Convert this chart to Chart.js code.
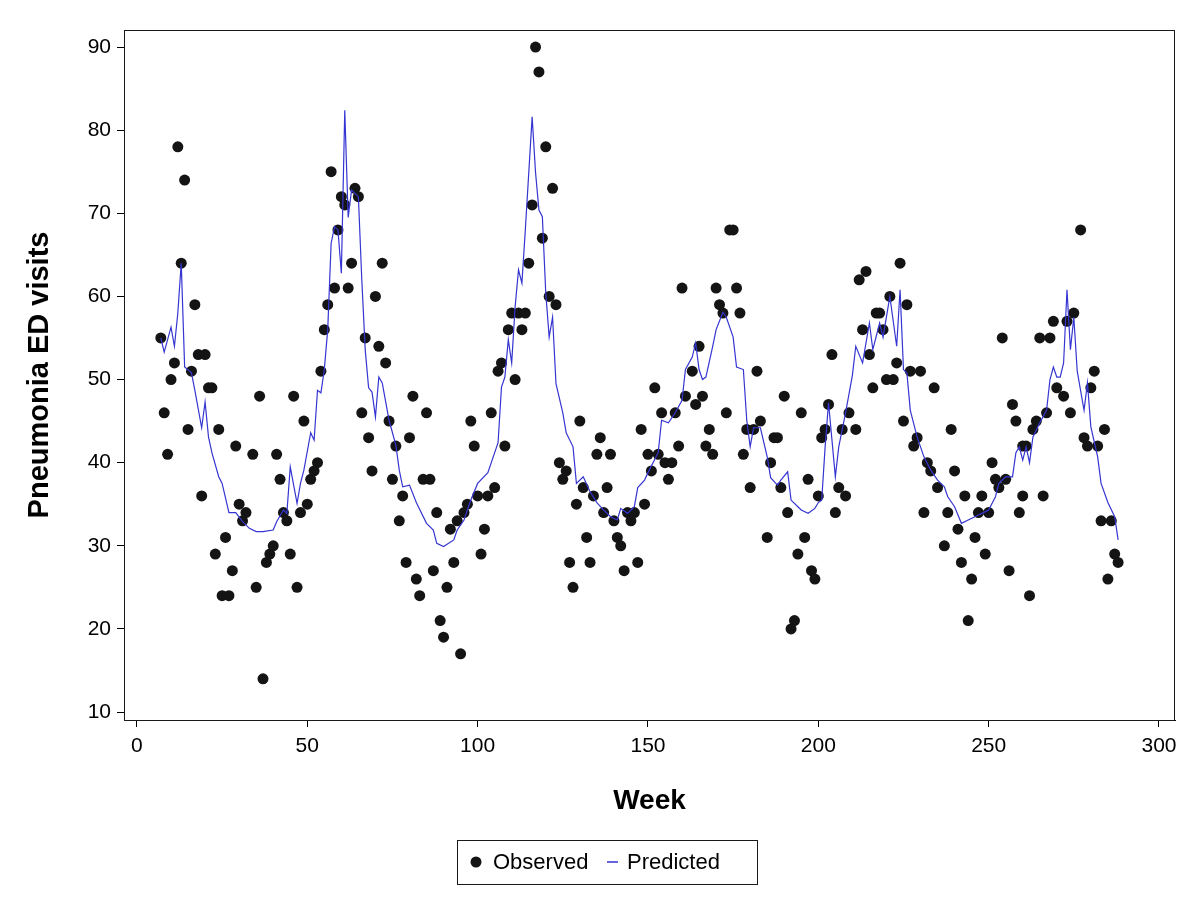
<!DOCTYPE html>
<html>
<head>
<meta charset="utf-8">
<title>Pneumonia ED visits</title>
<script src="https://cdn.jsdelivr.net/npm/chart.js@4.4.1/dist/chart.umd.min.js"></script>
<style>
html, body { margin: 0; padding: 0; background: #fff; }
#wrap { width: 1200px; height: 901px; }
</style>
</head>
<body>
<div id="wrap"><canvas id="myChart"></canvas></div>
<script>
// observed weekly counts (week number, visits)
var obsWeeks = [7,8,9,10,11,12,13,14,15,16,17,18,19,20,21,22,23,24,25,26,27,28,29,30,31,32,34,35,36,37,38,39,40,41,42,43,44,45,46,47,48,49,
  50,51,52,53,54,55,56,57,58,59,60,61,62,63,64,65,66,67,68,69,70,71,72,73,74,75,76,77,78,79,80,81,82,83,84,85,86,87,88,89,90,91,92,93,94,95,96,97,98,99,
  100,101,102,103,104,105,106,107,108,109,110,111,112,113,114,115,116,117,118,119,120,121,122,123,124,125,126,127,128,129,130,131,132,133,134,135,136,137,138,139,140,141,142,143,144,145,146,147,148,149,
  150,151,152,153,154,155,156,157,158,159,160,161,163,164,165,166,167,168,169,170,171,172,173,174,175,176,177,178,179,180,181,182,183,185,186,187,188,189,190,191,192,193,194,195,196,197,198,199,
  200,201,202,203,204,205,206,207,208,209,211,212,213,214,215,216,217,218,219,220,221,222,223,224,225,226,227,228,229,230,231,232,233,234,235,237,238,239,240,241,242,243,244,245,246,247,248,249,
  250,251,252,253,254,255,256,257,258,259,260,260,261,262,263,264,265,266,267,268,269,270,272,273,274,275,277,278,279,280,281,282,283,284,285,286,287,288];
var obsVisits = [55,46,41,50,52,78,64,74,44,51,59,53,36,53,49,49,29,44,24,31,24,27,42,35,33,34,41,25,48,14,28,29,30,41,38,34,33,29,48,25,34,45,
  35,38,39,40,51,56,59,75,61,68,72,71,61,64,73,72,46,55,43,39,60,54,64,52,45,38,42,33,36,28,43,48,26,24,38,46,38,27,34,21,19,25,32,28,33,17,34,35,45,42,
  36,29,32,36,46,37,51,52,42,56,58,50,58,56,58,64,71,90,87,67,78,60,73,59,40,38,39,28,25,35,45,37,31,28,36,41,43,34,37,41,33,31,30,27,34,33,34,28,44,35,
  41,39,49,41,46,40,38,40,46,42,61,48,51,47,54,48,42,44,41,61,59,58,46,68,68,61,58,41,44,37,44,51,45,31,40,43,43,37,48,34,20,21,29,46,31,38,27,26,
  36,43,44,47,53,34,37,44,36,46,44,62,56,63,53,49,58,58,56,50,60,50,52,64,45,59,51,42,43,51,34,40,39,49,37,30,34,44,39,32,28,36,21,26,31,34,36,29,
  34,40,38,37,55,38,27,47,45,34,36,42,42,24,44,45,55,36,46,55,57,49,48,57,46,58,68,43,42,49,51,42,33,44,26,33,29,28];

// model prediction
var predWeeks = [7,8,10,11,12,13,14,16,17,19,20,21,22,24,25,27,29,31,33,35,37,40,41,43,44,45,47,48,49,
  51,52,53,54,55,56,57,58,59,60,61,62,63,65,66,67,68,69,70,71,72,74,76,77,78,80,82,85,87,88,90,93,94,96,98,
  100,103,106,107,108,109,110,111,112,113,114,116,117,118,119,120,121,122,123,125,126,128,129,131,133,135,137,139,141,142,144,146,147,149,
  150,153,154,156,158,160,161,163,164,165,166,167,169,170,172,173,175,176,178,179,180,181,183,185,186,188,189,191,192,194,195,197,199,
  200,201,202,203,205,206,208,210,211,213,215,216,218,219,221,223,224,225,226,227,229,231,233,235,237,238,240,242,244,247,248,
  250,252,253,255,257,258,259,260,261,262,263,265,267,268,269,270,271,272,273,274,275,276,278,279,280,282,283,285,287,288];
var predVisits = [55,53.3,56.3,54,58,64,51.5,50.8,48.7,44.2,47.3,43.1,41.2,38.3,37.5,34,34,32.9,32.1,31.7,31.7,31.9,32.9,34.3,33.9,39.5,35.1,37.5,39.1,
  43.6,42.7,48.7,48.4,51.2,56,66.4,68.4,68,62.8,82.4,69.5,72.8,72,62,53.6,49,48.5,45.5,50.3,49.6,45.1,42.1,39.1,37.1,37.3,35.2,32.7,31.9,30.3,29.9,30.7,31.9,33.1,35.5,
  37.5,38.8,42.4,49.1,50.3,54.8,52,58.7,63.2,61.6,68,81.6,74.9,70.4,69.6,60.4,55.1,57.5,49.5,46,43.6,41.9,37.5,38.3,36.5,35.2,34.3,33.5,33.1,34.5,33.9,34.7,37,37.9,
  38.8,41.2,45.1,44.8,46,47.5,51.2,52.7,54.4,51.2,50,50.3,54,56,58.1,57.5,55.1,51.5,51.2,45.1,41.9,44.2,44.2,40.7,38.2,37.3,37.9,38.9,35.5,34.7,34.3,33.9,34.5,
  35.2,35.5,41.9,47.2,38.3,41.9,46,50.5,54,52,56.8,53.6,56.8,55.1,60,54,60.8,51.2,50.8,46.3,43.1,40.7,39.1,37.9,37.1,35.9,34.7,32.7,33.1,33.7,33.9,
  34.3,35.9,37.5,38.3,38.3,41.2,41.9,40.3,41.9,40,43.1,44.8,46.3,50,51.5,50.3,50.3,52,60.8,53.6,57.5,51,46.3,49.6,44.3,40.7,37.5,35.2,33.5,30.7];

var xTicks = [0, 50, 100, 150, 200, 250, 300];
var yTicks = [10, 20, 30, 40, 50, 60, 70, 80, 90];

var observed = obsWeeks.map(function (w, i) { return { x: w, y: obsVisits[i] }; });
var predicted = predWeeks.map(function (w, i) { return { x: w, y: predVisits[i] }; });

var FONT = '"Liberation Sans", Arial, sans-serif';
var lineBlue = '#3535d2';
var dotBlack = '#141414';

// box round the plot and the boxed legend under it
var frameAndLegend = {
  id: 'frameAndLegend',
  afterDraw: function (chart) {
    var a = chart.chartArea, c = chart.ctx;
    c.save();
    c.strokeStyle = '#1a1a1a';
    c.lineWidth = 1;
    c.strokeRect(a.left + 0.5, a.top + 0.5, a.right - a.left - 1, a.bottom - a.top);

    var bx = 457, by = 840, bw = 300, bh = 44, cy = by + bh / 2;
    c.strokeRect(bx + 0.5, by + 0.5, bw, bh);
    c.fillStyle = dotBlack;
    c.beginPath();
    c.arc(bx + 19, cy, 5.5, 0, Math.PI * 2);
    c.fill();
    c.font = '22px ' + FONT;
    c.textBaseline = 'middle';
    c.textAlign = 'left';
    c.fillStyle = '#000';
    c.fillText('Observed', bx + 36, cy + 1);
    c.strokeStyle = lineBlue;
    c.lineWidth = 1.5;
    c.beginPath();
    c.moveTo(bx + 150, cy);
    c.lineTo(bx + 161, cy);
    c.stroke();
    c.fillText('Predicted', bx + 170, cy + 1);
    c.restore();
  }
};

var ctx = document.getElementById('myChart').getContext('2d');
var chart = new Chart(ctx, {
  type: 'scatter',
  data: {
    datasets: [{
      label: 'Predicted',
      data: predicted,
      showLine: true,
      borderColor: lineBlue,
      borderWidth: 1.2,
      pointRadius: 0,
      tension: 0,
      order: 0
    }, {
      label: 'Observed',
      data: observed,
      backgroundColor: dotBlack,
      borderColor: dotBlack,
      borderWidth: 0,
      pointRadius: 5.5,
      order: 1
    }]
  },
  options: {
    responsive: true,
    maintainAspectRatio: false,
    animation: false,
    layout: { padding: { left: 20, right: 25, top: 30, bottom: 81 } },
    plugins: {
      legend: { display: false },
      tooltip: { enabled: false }
    },
    scales: {
      x: {
        type: 'linear',
        min: -3.8,
        max: 304.7,
        afterBuildTicks: function (axis) { axis.ticks = xTicks.map(function (v) { return { value: v }; }); },
        afterFit: function (axis) { axis.height = 100; },
        grid: { drawOnChartArea: false, drawTicks: true, tickLength: 7, color: '#000' },
        border: { display: true, color: '#000' },
        ticks: { color: '#000', font: { family: FONT, size: 21 }, padding: 7, maxRotation: 0 },
        title: { display: true, text: 'Week', color: '#000', font: { family: FONT, size: 28, weight: 'bold' }, padding: { top: 0, bottom: 2 } }
      },
      y: {
        type: 'linear',
        min: 9.04,
        max: 92.05,
        afterBuildTicks: function (axis) { axis.ticks = yTicks.map(function (v) { return { value: v }; }); },
        afterFit: function (axis) { axis.width = 104; },
        grid: { drawOnChartArea: false, drawTicks: true, tickLength: 7, color: '#000' },
        border: { display: true, color: '#000' },
        ticks: { color: '#000', font: { family: FONT, size: 21 }, padding: 6 },
        title: { display: true, text: 'Pneumonia ED visits', color: '#000', font: { family: FONT, size: 29, weight: 'bold' }, padding: { top: 3, bottom: 0 } }
      }
    }
  },
  plugins: [frameAndLegend]
});
</script>
</body>
</html>
